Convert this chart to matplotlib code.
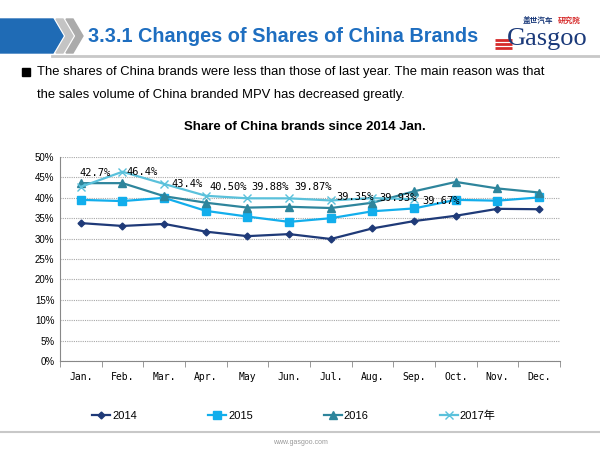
import matplotlib.pyplot as plt
from matplotlib.patches import Polygon, Rectangle
from matplotlib.ticker import FuncFormatter

# monthly share of China brands (%)
months = ['Jan.', 'Feb.', 'Mar.', 'Apr.', 'May', 'Jun.', 'Jul.', 'Aug.', 'Sep.', 'Oct.', 'Nov.', 'Dec.']
share_2014 = [33.8, 33.1, 33.6, 31.7, 30.6, 31.1, 29.9, 32.5, 34.3, 35.6, 37.3, 37.2]
share_2015 = [39.5, 39.2, 40.0, 36.8, 35.4, 34.1, 35.0, 36.7, 37.4, 39.5, 39.3, 40.1]
share_2016 = [43.6, 43.6, 40.4, 38.8, 37.6, 37.8, 37.5, 38.8, 41.6, 43.9, 42.3, 41.3]
share_2017 = [42.7, 46.4, 43.4, 40.50, 39.88, 39.87, 39.35, 39.93, 39.67]
labels_2017 = ['42.7%', '46.4%', '43.4%', '40.50%', '39.88%', '39.87%', '39.35%', '39.93%', '39.67%']
series_names = ['2014', '2015', '2016', '2017年']

plt.rcParams['font.family'] = ['Liberation Sans', 'Noto Sans CJK SC']

fig = plt.figure(figsize=(6, 4.5), dpi=100)

# slide decoration, drawn in pixel coordinates
bg = fig.add_axes([0, 0, 1, 1], zorder=-1)
bg.set_xlim(0, 600)
bg.set_ylim(450, 0)
bg.axis('off')
bg.add_patch(Polygon([(0, 19), (53, 19), (63, 36), (53, 53), (0, 53)], color='#1F6BB5'))
bg.add_patch(Polygon([(56, 19), (63, 19), (73, 36), (63, 53), (56, 53), (66, 36)], color='#C4C4C4'))
bg.add_patch(Polygon([(66, 19), (73, 19), (83, 36), (73, 53), (66, 53), (76, 36)], color='#ABABAB'))
bg.plot([52, 600], [55.5, 55.5], color='#C8C8C8', lw=2)
bg.text(88, 36, '3.3.1 Changes of Shares of China Brands', color='#1E6EC0',
        fontsize=14.3, fontweight='bold', va='center', ha='left')

# logo
for yy in (40, 44, 48):
    bg.plot([495, 512], [yy, yy], color='#D62A2A', lw=2, solid_capstyle='butt')
bg.text(547, 39, 'Gasgoo', family='Liberation Serif', fontsize=19, color='#1B3A7A',
        ha='center', va='center')
bg.text(523, 20, '盖世汽车', family='Noto Sans CJK SC', fontsize=5.5, color='#1B3A7A',
        fontweight='bold', ha='left', va='center')
bg.text(558, 20, '研究院', family='Noto Sans CJK SC', fontsize=5.5, color='#D62A2A',
        fontweight='bold', ha='left', va='center')

bg.add_patch(Rectangle((22, 68), 8, 8, color='black'))
bg.text(37, 72, 'The shares of China brands were less than those of last year. The main reason was that',
        fontsize=9.4, va='center', ha='left')
bg.text(37, 95, 'the sales volume of China branded MPV has decreased greatly.',
        fontsize=9.4, va='center', ha='left')
bg.text(305, 127, 'Share of China brands since 2014 Jan.', fontsize=9.5,
        fontweight='bold', ha='center', va='center')

bg.plot([0, 600], [432, 432], color='#C8C8C8', lw=1.5)
bg.text(300, 443, 'www.gasgoo.com', fontsize=5, color='#999999', ha='center', va='center')

# chart
ax = fig.add_axes([0.1, 0.198, 0.8333, 0.453])
x = list(range(len(months)))
ax.plot(x, share_2014, color='#1F3A78', marker='D', markersize=3.5, lw=1.6, label=series_names[0])
ax.plot(x, share_2015, color='#12AEEC', marker='s', markersize=5.5, lw=1.6, label=series_names[1])
ax.plot(x, share_2016, color='#2E859C', marker='^', markersize=5.5, lw=1.6, label=series_names[2])
x17 = x[:len(share_2017)]
ax.plot(x17, share_2017, color='#5AC1DB', marker='x', markersize=6, mew=1, lw=1.6, label=series_names[3])

offsets = [(-1, 14), (4, 0), (7, 0), (4, 9), (4, 11), (5, 11), (6, 3), (7, 0), (8, -2)]
for xi, yi, txt, off in zip(x17, share_2017, labels_2017, offsets):
    ax.annotate(txt, (xi, yi), xytext=off, textcoords='offset pixels',
                ha='left', va='center', fontsize=7.5, family='DejaVu Sans Mono')

ax.set_xlim(-0.5, len(months) - 0.5)
ax.set_ylim(0, 50)
ax.set_yticks(range(0, 51, 5))
ax.yaxis.set_major_formatter(FuncFormatter(lambda v, p: '%d%%' % v))
ax.set_xticks(x)
ax.set_xticklabels(months, family='DejaVu Sans Mono', fontsize=7)
ax.set_xticks([i - 0.5 for i in range(len(months) + 1)], minor=True)
ax.tick_params(axis='x', which='major', length=0, pad=8)
ax.tick_params(axis='x', which='minor', length=4, color='#888888')
ax.tick_params(axis='y', length=0, labelsize=7, pad=4)
ax.grid(axis='y', color='#A8A8A8', linestyle=(0, (1, 1)), lw=0.8)
ax.set_axisbelow(True)
for s in ('top', 'right'):
    ax.spines[s].set_visible(False)
for s in ('left', 'bottom'):
    ax.spines[s].set_color('#888888')

fig.legend(loc='center', bbox_to_anchor=(0.49, 1 - 416 / 450), ncol=4, frameon=False,
           fontsize=8, handlelength=1.6, handletextpad=0.2, columnspacing=6.4)

fig.savefig('out.png', dpi=100)
